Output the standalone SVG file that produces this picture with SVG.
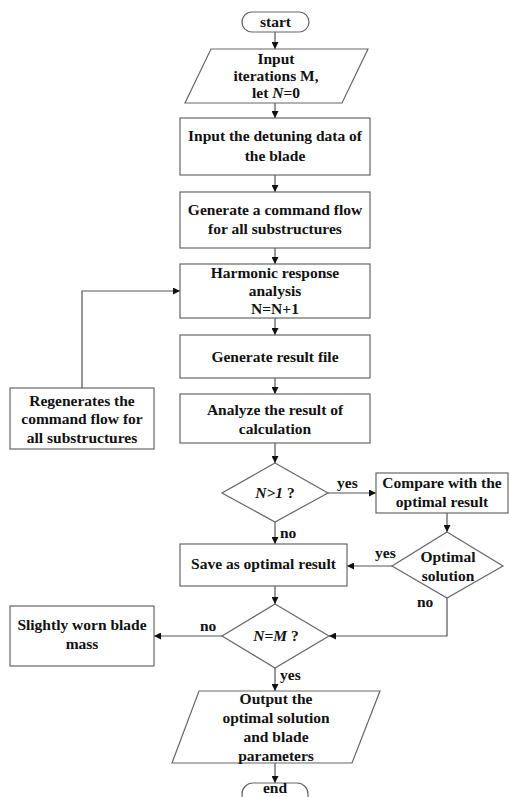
<svg xmlns="http://www.w3.org/2000/svg" width="510" height="797" viewBox="0 0 510 797">
<defs>
<marker id="ah" viewBox="0 0 10 10" refX="10" refY="5" markerWidth="7" markerHeight="7" markerUnits="userSpaceOnUse" orient="auto">
<path d="M0,0 L10,5 L0,10 z" fill="#111"/>
</marker>
</defs>
<style>
.s{fill:#fff;stroke:#666;stroke-width:1.2}
.t{font-family:"Liberation Serif","Times New Roman",serif;font-weight:bold;font-size:15.5px;fill:#111;text-anchor:middle}
.l{font-family:"Liberation Serif","Times New Roman",serif;font-weight:bold;font-size:15.5px;fill:#111}
.c{fill:none;stroke:#555;stroke-width:1.2;marker-end:url(#ah)}
</style>
<rect width="510" height="797" fill="#fff"/>
<g id="connectors">
<line class="c" x1="275" y1="32" x2="275" y2="49"/>
<line class="c" x1="275" y1="103" x2="275" y2="118"/>
<line class="c" x1="275" y1="175" x2="275" y2="192"/>
<line class="c" x1="275" y1="248" x2="275" y2="264"/>
<line class="c" x1="275" y1="318" x2="275" y2="335"/>
<line class="c" x1="275" y1="378" x2="275" y2="394"/>
<line class="c" x1="275" y1="443" x2="275" y2="463"/>
<polyline class="c" points="82,388 82,291 180,291"/>
<line class="c" x1="328" y1="493" x2="376" y2="493"/>
<line class="c" x1="447" y1="513" x2="447" y2="532"/>
<line class="c" x1="275" y1="522" x2="275" y2="544"/>
<line class="c" x1="392" y1="566" x2="347" y2="566"/>
<line class="c" x1="275" y1="586" x2="275" y2="604"/>
<polyline class="c" points="447,598 447,636 329,636"/>
<line class="c" x1="222" y1="636" x2="154" y2="636"/>
<line class="c" x1="275" y1="668" x2="275" y2="691"/>
<line class="c" x1="275" y1="763" x2="275" y2="783"/>
<text class="l" x="337" y="488">yes</text>
<text class="l" x="280" y="538">no</text>
<text class="l" x="375" y="558">yes</text>
<text class="l" x="417" y="607">no</text>
<text class="l" x="200" y="631">no</text>
<text class="l" x="280" y="680">yes</text>
</g>
<g id="start">
<rect class="s" x="242" y="12" width="67" height="20" rx="10"/>
<text class="t" x="275.5" y="27">start</text>
</g>
<g id="input">
<polygon class="s" points="211,49 368,49 342,103 185,103"/>
<text class="t" x="276" y="64">Input</text>
<text class="t" x="276" y="81">iterations M,</text>
<text class="t" x="276" y="98">let <tspan font-style="italic">N</tspan>=0</text>
</g>
<g id="detuning">
<rect class="s" x="180" y="118" width="190" height="57"/>
<text class="t" x="275" y="141">Input the detuning data of</text>
<text class="t" x="275" y="161">the blade</text>
</g>
<g id="generate-cmd">
<rect class="s" x="180" y="192" width="190" height="56"/>
<text class="t" x="275" y="215">Generate a command flow</text>
<text class="t" x="275" y="234">for all substructures</text>
</g>
<g id="harmonic">
<rect class="s" x="180" y="264" width="190" height="54"/>
<text class="t" x="275" y="278">Harmonic response</text>
<text class="t" x="275" y="296">analysis</text>
<text class="t" x="275" y="314">N=N+1</text>
</g>
<g id="result-file">
<rect class="s" x="180" y="335" width="190" height="43"/>
<text class="t" x="275" y="362">Generate result file</text>
</g>
<g id="analyze">
<rect class="s" x="180" y="394" width="190" height="49"/>
<text class="t" x="275" y="415">Analyze the result of</text>
<text class="t" x="275" y="434">calculation</text>
</g>
<g id="regenerate">
<rect class="s" x="10" y="388" width="144" height="61"/>
<text class="t" x="82" y="406">Regenerates the</text>
<text class="t" x="82" y="424">command flow for</text>
<text class="t" x="82" y="443">all substructures</text>
</g>
<g id="n-gt-1">
<polygon class="s" points="275,463 328,493 275,522 222,493"/>
<text class="t" x="275" y="498"><tspan font-style="italic">N&gt;1</tspan> ?</text>
</g>
<g id="compare">
<rect class="s" x="376" y="473" width="132" height="40"/>
<text class="t" x="442" y="488">Compare with the</text>
<text class="t" x="442" y="507">optimal result</text>
</g>
<g id="optimal">
<polygon class="s" points="447,532 503,566 447,598 392,566"/>
<text class="t" x="448" y="562">Optimal</text>
<text class="t" x="448" y="581">solution</text>
</g>
<g id="save">
<rect class="s" x="180" y="544" width="167" height="42"/>
<text class="t" x="263.5" y="569">Save as optimal result</text>
</g>
<g id="n-eq-m">
<polygon class="s" points="275,604 329,636 275,668 222,636"/>
<text class="t" x="276" y="641"><tspan font-style="italic">N</tspan>=<tspan font-style="italic">M</tspan> ?</text>
</g>
<g id="worn">
<rect class="s" x="10" y="606" width="144" height="60"/>
<text class="t" x="82" y="630">Slightly worn blade</text>
<text class="t" x="82" y="649">mass</text>
</g>
<g id="output">
<polygon class="s" points="199,691 380,691 352,763 172,763"/>
<text class="t" x="276" y="704">Output the</text>
<text class="t" x="276" y="723">optimal solution</text>
<text class="t" x="276" y="742">and blade</text>
<text class="t" x="276" y="761">parameters</text>
</g>
<g id="end">
<rect class="s" x="242" y="783" width="66" height="24" rx="11"/>
<text class="t" x="275" y="793">end</text>
</g>
</svg>
